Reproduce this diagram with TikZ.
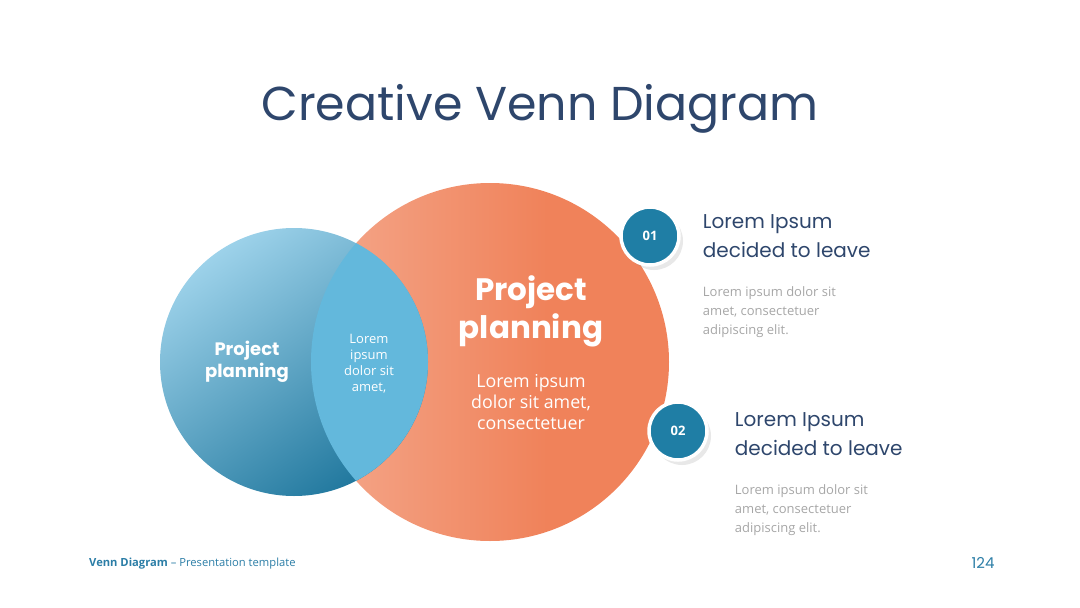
\documentclass[tikz,border=0pt]{standalone}
\usepackage{fontspec}
\setmainfont{Open Sans}
\newfontfamily\popfont{Poppins}
\usepackage{xcolor}
\usepackage{tikz}
\usetikzlibrary{positioning, shadows}

\definecolor{titleblue}{HTML}{2E466C}
\definecolor{badgeblue}{HTML}{1F7EA5}
\definecolor{notegray}{HTML}{A6A6A6}
\definecolor{footblue}{HTML}{2B7DA6}
\definecolor{bluelight}{HTML}{9DD2EA}
\definecolor{bluemid}{HTML}{62B6DA}
\definecolor{bluedark}{HTML}{21789E}
\definecolor{lensblue}{HTML}{63B8DC}
\definecolor{peach}{HTML}{F4A88C}
\definecolor{orangec}{HTML}{F0825A}

\pgfdeclarehorizontalshading{orangeshade}{100bp}{color(0bp)=(peach); color(25bp)=(peach); color(58bp)=(orangec); color(100bp)=(orangec)}

\tikzset{
  badge/.style={circle, fill=badgeblue, draw=white, line width=3.5pt, minimum size=58pt,
    inner sep=0pt, text=white, font=\bfseries\fontsize{13}{13}\selectfont,
    drop shadow={shadow xshift=4pt, shadow yshift=-5pt, opacity=0.18}},
  head/.style={align=left, inner sep=0pt, text=titleblue, font=\popfont\fontsize{20}{29}\selectfont},
  note/.style={align=left, inner sep=0pt, text=notegray, font=\fontsize{13}{19}\selectfont},
}

\begin{document}
\begin{tikzpicture}[x=1pt, y=-1pt]

            \useasboundingbox (0,0) rectangle (1080,608);

            \node[anchor=base, text=titleblue, font=\popfont\fontsize{47.5}{50}\selectfont] (T) at (540,120) {Creative Venn Diagram}; %title

            % circles
            \node[circle, minimum size=358pt, inner sep=0pt, outer sep=0pt, shading=orangeshade] (O) at (490,362) {}; %big
            \node[circle, minimum size=268pt, inner sep=0pt, outer sep=0pt,
                  top color=bluelight, middle color=bluemid, bottom color=bluedark, shading angle=35] (B) at (294,362) {}; %small

            \begin{scope}
              \clip (O.center) circle [radius=179pt];
              \fill[lensblue] (B.center) circle [radius=134pt]; %lens
            \end{scope}

            \node[align=center, text=white, font=\popfont\bfseries\fontsize{18}{22}\selectfont] (BT) at (247,362) {Project\\planning};
            \node[align=center, text=white, font=\fontsize{13}{16}\selectfont] (LT) at (369,364) {Lorem\\ipsum\\dolor sit\\amet,};
            \node[align=center, text=white, font=\popfont\bfseries\fontsize{31}{38}\selectfont] (OT) at (531,311) {Project\\planning};
            \node[align=center, text=white, font=\fontsize{17.8}{21}\selectfont] (OL) at (531,402) {Lorem ipsum\\dolor sit amet,\\consectetuer};

            % badges
            \node[badge] (N1) at (650,236) {01};
            \node[badge] (N2) at (678,431) {02};

            \node[head, anchor=west] (H1) [right=22pt of N1] {Lorem Ipsum\\decided to leave};
            \node[head, anchor=west] (H2) [right=26pt of N2, yshift=-3pt] {Lorem Ipsum\\decided to leave};

            \node[note] (G1) [below=29pt of H1.south west, anchor=north west] {Lorem ipsum dolor sit\\amet, consectetuer\\adipiscing elit.};
            \node[note] (G2) [below=29pt of H2.south west, anchor=north west] {Lorem ipsum dolor sit\\amet, consectetuer\\adipiscing elit.};

            % footer
            \node[anchor=west, inner sep=0pt, text=footblue, font=\fontsize{11.2}{12}\selectfont] (F) at (89,564) {\textbf{Venn Diagram} -- Presentation template};
            \node[text=footblue, font=\popfont\fontsize{15}{15}\selectfont] (P) at (983,563) {124};

\end{tikzpicture}
\end{document}
